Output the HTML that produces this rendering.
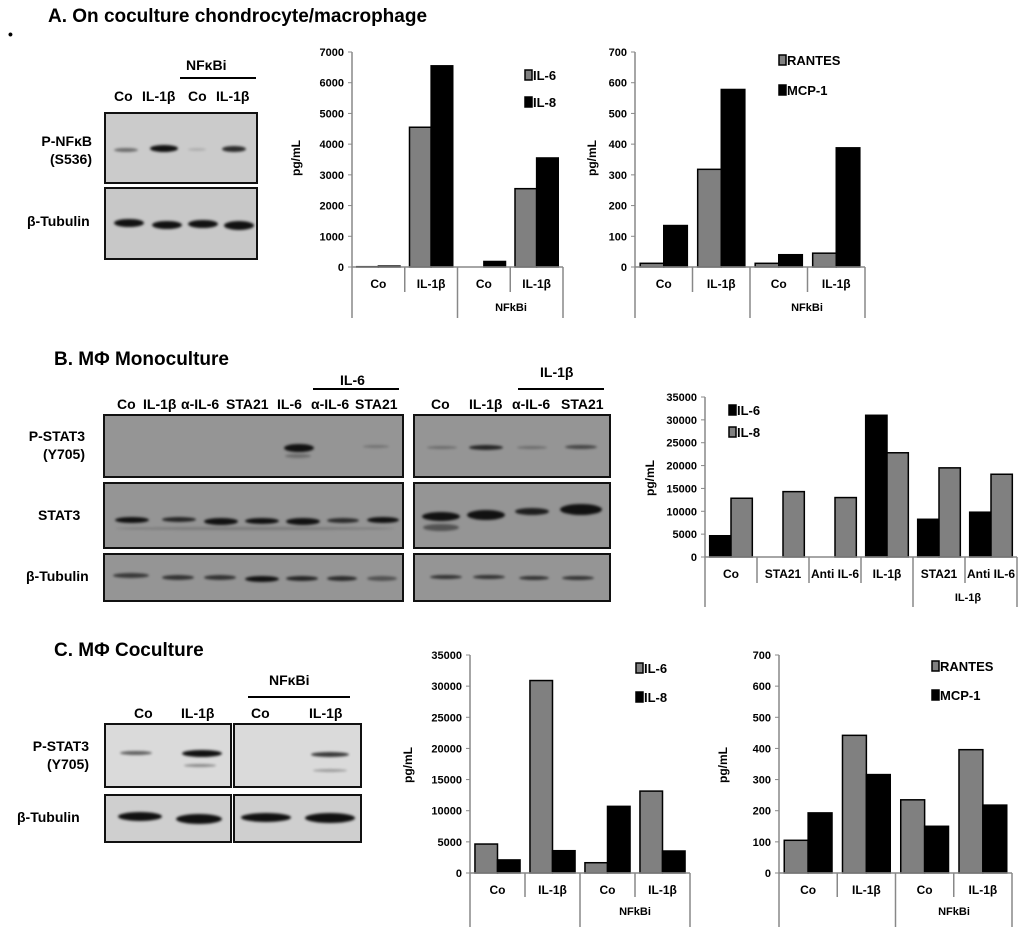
<!DOCTYPE html>
<html><head><meta charset="utf-8">
<style>
body{margin:0;width:1024px;height:927px;background:#fff;position:relative;overflow:hidden;font-family:"Liberation Sans",Arial,sans-serif;font-weight:bold;color:#000}
.t{position:absolute;white-space:nowrap}
.h{font-size:19px}
.l{font-size:14px}
.box{position:absolute;border:2px solid #111;box-sizing:border-box;overflow:hidden}
.band{position:absolute;border-radius:50%;background:#111;filter:blur(1.3px)}
.line{position:absolute;height:2px;background:#000}
svg{position:absolute;left:0;top:0}
</style></head><body>
<div class="t" style="left:8px;top:26px;font-size:14px">•</div>
<div class="t h" style="left:48px;top:6px">A. On coculture chondrocyte/macrophage</div>
<div class="t h" style="left:54px;top:349px">B. MΦ Monoculture</div>
<div class="t h" style="left:54px;top:640px">C. MΦ Coculture</div>

<!-- Blot A -->
<div class="t l" style="left:186px;top:57px">NFκBi</div>
<div class="line" style="left:180px;top:77px;width:76px"></div>
<div class="t l" style="left:114px;top:88px">Co</div>
<div class="t l" style="left:142px;top:88px">IL-1β</div>
<div class="t l" style="left:188px;top:88px">Co</div>
<div class="t l" style="left:216px;top:88px">IL-1β</div>
<div class="t l" style="left:32px;top:132px;text-align:right;width:60px;line-height:18px">P-NFκB<br>(S536)</div>
<div class="t l" style="left:27px;top:213px">β-Tubulin</div>
<div class="box" style="left:104px;top:112px;width:154px;height:72px;background:#cbcbcb">
 <div class="band" style="left:8px;top:34px;width:24px;height:4px;opacity:.5"></div>
 <div class="band" style="left:44px;top:31px;width:28px;height:7px"></div>
 <div class="band" style="left:82px;top:34px;width:18px;height:3px;opacity:.15"></div>
 <div class="band" style="left:116px;top:32px;width:24px;height:6px;opacity:.85"></div>
</div>
<div class="box" style="left:104px;top:187px;width:154px;height:73px;background:#c8c8c8">
 <div class="band" style="left:8px;top:30px;width:30px;height:8px"></div>
 <div class="band" style="left:46px;top:32px;width:30px;height:8px"></div>
 <div class="band" style="left:82px;top:31px;width:30px;height:8px"></div>
 <div class="band" style="left:118px;top:32px;width:30px;height:9px"></div>
</div>

<!-- Blot B -->
<div class="t l" style="left:340px;top:372px">IL-6</div>
<div class="line" style="left:313px;top:388px;width:86px"></div>
<div class="t l" style="left:540px;top:364px">IL-1β</div>
<div class="line" style="left:518px;top:388px;width:86px"></div>
<div class="t l" style="left:117px;top:396px">Co</div>
<div class="t l" style="left:143px;top:396px">IL-1β</div>
<div class="t l" style="left:181px;top:396px">α-IL-6</div>
<div class="t l" style="left:226px;top:396px">STA21</div>
<div class="t l" style="left:277px;top:396px">IL-6</div>
<div class="t l" style="left:311px;top:396px">α-IL-6</div>
<div class="t l" style="left:355px;top:396px">STA21</div>
<div class="t l" style="left:431px;top:396px">Co</div>
<div class="t l" style="left:469px;top:396px">IL-1β</div>
<div class="t l" style="left:512px;top:396px">α-IL-6</div>
<div class="t l" style="left:561px;top:396px">STA21</div>
<div class="t l" style="left:27px;top:427px;text-align:right;width:58px;line-height:18px">P-STAT3<br>(Y705)</div>
<div class="t l" style="left:38px;top:507px">STAT3</div>
<div class="t l" style="left:26px;top:568px">β-Tubulin</div>
<div class="box" style="left:103px;top:414px;width:301px;height:64px;background:#959595">
 <div class="band" style="left:179px;top:28px;width:30px;height:8px"></div>
 <div class="band" style="left:180px;top:38px;width:26px;height:4px;opacity:.3"></div>
 <div class="band" style="left:258px;top:29px;width:26px;height:3px;opacity:.25"></div>
</div>
<div class="box" style="left:103px;top:482px;width:301px;height:67px;background:#959595">
 <div class="band" style="left:10px;top:33px;width:34px;height:6px"></div>
 <div class="band" style="left:57px;top:33px;width:34px;height:5px;opacity:.85"></div>
 <div class="band" style="left:99px;top:34px;width:34px;height:7px"></div>
 <div class="band" style="left:140px;top:34px;width:34px;height:6px"></div>
 <div class="band" style="left:181px;top:34px;width:34px;height:7px"></div>
 <div class="band" style="left:222px;top:34px;width:32px;height:5px;opacity:.8"></div>
 <div class="band" style="left:262px;top:33px;width:32px;height:6px"></div>
 <div class="band" style="left:10px;top:43px;width:280px;height:3px;opacity:.2"></div>
</div>
<div class="box" style="left:103px;top:553px;width:301px;height:49px;background:#959595">
 <div class="band" style="left:8px;top:18px;width:36px;height:5px;opacity:.7"></div>
 <div class="band" style="left:57px;top:20px;width:32px;height:5px;opacity:.75"></div>
 <div class="band" style="left:99px;top:20px;width:32px;height:5px;opacity:.75"></div>
 <div class="band" style="left:140px;top:21px;width:34px;height:6px"></div>
 <div class="band" style="left:181px;top:21px;width:32px;height:5px;opacity:.85"></div>
 <div class="band" style="left:222px;top:21px;width:30px;height:5px;opacity:.8"></div>
 <div class="band" style="left:262px;top:21px;width:30px;height:5px;opacity:.5"></div>
</div>
<div class="box" style="left:413px;top:414px;width:198px;height:64px;background:#959595">
 <div class="band" style="left:12px;top:30px;width:30px;height:3px;opacity:.3"></div>
 <div class="band" style="left:54px;top:29px;width:34px;height:5px;opacity:.85"></div>
 <div class="band" style="left:102px;top:30px;width:30px;height:3px;opacity:.3"></div>
 <div class="band" style="left:150px;top:29px;width:32px;height:4px;opacity:.6"></div>
</div>
<div class="box" style="left:413px;top:482px;width:198px;height:67px;background:#959595">
 <div class="band" style="left:7px;top:28px;width:38px;height:9px"></div>
 <div class="band" style="left:8px;top:40px;width:36px;height:7px;opacity:.5"></div>
 <div class="band" style="left:52px;top:26px;width:38px;height:10px"></div>
 <div class="band" style="left:100px;top:24px;width:34px;height:7px;opacity:.9"></div>
 <div class="band" style="left:145px;top:20px;width:42px;height:11px"></div>
</div>
<div class="box" style="left:413px;top:553px;width:198px;height:49px;background:#959595">
 <div class="band" style="left:15px;top:20px;width:32px;height:4px;opacity:.75"></div>
 <div class="band" style="left:58px;top:20px;width:32px;height:4px;opacity:.75"></div>
 <div class="band" style="left:104px;top:21px;width:30px;height:4px;opacity:.75"></div>
 <div class="band" style="left:147px;top:21px;width:32px;height:4px;opacity:.75"></div>
</div>

<!-- Blot C -->
<div class="t l" style="left:269px;top:672px">NFκBi</div>
<div class="line" style="left:248px;top:696px;width:102px"></div>
<div class="t l" style="left:134px;top:705px">Co</div>
<div class="t l" style="left:181px;top:705px">IL-1β</div>
<div class="t l" style="left:251px;top:705px">Co</div>
<div class="t l" style="left:309px;top:705px">IL-1β</div>
<div class="t l" style="left:27px;top:737px;text-align:right;width:62px;line-height:18px">P-STAT3<br>(Y705)</div>
<div class="t l" style="left:17px;top:809px">β-Tubulin</div>
<div class="box" style="left:104px;top:723px;width:128px;height:65px;background:#dadada">
 <div class="band" style="left:14px;top:26px;width:32px;height:4px;opacity:.6"></div>
 <div class="band" style="left:76px;top:25px;width:40px;height:7px"></div>
 <div class="band" style="left:78px;top:39px;width:32px;height:3px;opacity:.4"></div>
</div>
<div class="box" style="left:233px;top:723px;width:129px;height:65px;background:#dadada">
 <div class="band" style="left:76px;top:27px;width:38px;height:5px;opacity:.8"></div>
 <div class="band" style="left:78px;top:44px;width:34px;height:3px;opacity:.3"></div>
</div>
<div class="box" style="left:104px;top:794px;width:128px;height:49px;background:#cfcfcf">
 <div class="band" style="left:12px;top:16px;width:44px;height:9px"></div>
 <div class="band" style="left:70px;top:18px;width:46px;height:10px"></div>
</div>
<div class="box" style="left:233px;top:794px;width:129px;height:49px;background:#cfcfcf">
 <div class="band" style="left:6px;top:17px;width:50px;height:9px"></div>
 <div class="band" style="left:70px;top:17px;width:50px;height:10px"></div>
</div>

<svg id="charts" width="1024" height="927"></svg>

<script>
// Chart A1: IL-6 / IL-8
const a1Cats = ["Co","IL-1β","Co","IL-1β"];
const a1IL6 = [10, 4550, 0, 2550];
const a1IL8 = [30, 6550, 180, 3550];
const a1Ticks = [0,1000,2000,3000,4000,5000,6000,7000];
// Chart A2: RANTES / MCP-1
const a2Cats = ["Co","IL-1β","Co","IL-1β"];
const a2RANTES = [12, 318, 12, 45];
const a2MCP1 = [135, 578, 40, 388];
const a2Ticks = [0,100,200,300,400,500,600,700];
// Chart B
const bCats = ["Co","STA21","Anti IL-6","IL-1β","STA21","Anti IL-6"];
const bIL6 = [4650, 0, 0, 31000, 8250, 9800];
const bIL8 = [12850, 14300, 13000, 22800, 19500, 18100];
const bTicks = [0,5000,10000,15000,20000,25000,30000,35000];
// Chart C1
const c1Cats = ["Co","IL-1β","Co","IL-1β"];
const c1IL6 = [4650, 30900, 1650, 13150];
const c1IL8 = [2100, 3580, 10700, 3530];
const c1Ticks = [0,5000,10000,15000,20000,25000,30000,35000];
// Chart C2
const c2Cats = ["Co","IL-1β","Co","IL-1β"];
const c2RANTES = [105, 442, 235, 396];
const c2MCP1 = [193, 316, 150, 218];
const c2Ticks = [0,100,200,300,400,500,600,700];

const NS = "http://www.w3.org/2000/svg";
const svg = document.getElementById('charts');
function mk(tag, attrs, parent){
  const e = document.createElementNS(NS, tag);
  for (const k in attrs) e.setAttribute(k, attrs[k]);
  (parent||svg).appendChild(e); return e;
}
function txt(x,y,s,size,anchor,parent){
  const t = mk('text',{x:x,y:y,'font-size':size,'font-family':'Liberation Sans, Arial, sans-serif','font-weight':'bold','text-anchor':anchor||'middle'},parent);
  t.textContent = s; return t;
}
const GRAY="#808080", BLACK="#000";
function chart(o){
  const g = mk('g',{});
  
  
  const n = o.cats.length;
  const W = (o.x1 - o.x0)/n;
  const max = o.ticks[o.ticks.length-1];
  const yS = v => o.y0 - v/max*(o.y0 - o.yTop);
  const xS = i => o.x0 + i*W;
  o.ticks.forEach(t=>{
    const y = yS(t);
    mk('line',{x1:o.x0-4,x2:o.x0,y1:y,y2:y,stroke:'#888','stroke-width':1},g);
    const lab = txt(o.x0-8, y+4, String(t), 11, 'end', g);
    
    
  });
  const bw = W*0.41, pad = W*0.09;
  o.series.forEach((s,si)=>{
    s.vals.forEach((v,i)=>{
      if (v<=0) return;
      const x = xS(i)+pad+si*bw, y = yS(v);
      const r = mk('rect',{x:x,y:y,width:bw,height:o.y0-y,fill:s.color,stroke:'#000','stroke-width':1.5},g);
      
      
    });
  });
  mk('line',{x1:o.x0,x2:o.x0,y1:o.yTop,y2:o.y0,stroke:'#888','stroke-width':1.5},g);
  mk('line',{x1:o.x0,x2:o.x1,y1:o.y0,y2:o.y0,stroke:'#888','stroke-width':1.5},g);
  for (let i=0;i<=n;i++){
    const x = xS(i);
    const long = o.longs.indexOf(i)>=0;
    mk('line',{x1:x,x2:x,y1:o.y0,y2:long?o.yLong:o.yShort,stroke:'#888','stroke-width':1.5},g);
  }
  o.cats.forEach((c,i)=>{
    const l = txt(xS(i)+W/2, o.y0+21, c, 12, 'middle', g);
    
    
  });
  const gl = txt(o.groupX, o.groupY, o.group, 11, 'middle', g);
  
  
  const yt = txt(0,0,'pg/mL',12,'middle',g);
  yt.setAttribute('transform','translate('+o.ytX+','+o.ytY+') rotate(-90)');
  
  
  o.series.forEach((s,si)=>{
    const ly = o.legY + si*o.legDy;
    mk('rect',{x:o.legX,y:ly-9,width:7,height:10,fill:s.color,stroke:'#000','stroke-width':1.5},g);
    const lt = txt(o.legX+8, ly+1, s.label, 13, 'start', g);
    
    
  });
}
chart({name:'chart-a-il6-il8',cats:a1Cats,ticks:a1Ticks,x0:352,x1:563,y0:267,yTop:52,
  series:[{key:'il6',label:'IL-6',vals:a1IL6,color:GRAY},{key:'il8',label:'IL-8',vals:a1IL8,color:BLACK}],
  longs:[0,2,4],yShort:292,yLong:318,group:'NFkBi',groupX:511,groupY:311,ytX:300,ytY:158,legX:525,legY:79,legDy:27});
chart({name:'chart-a-rantes-mcp1',cats:a2Cats,ticks:a2Ticks,x0:635,x1:865,y0:267,yTop:52,
  series:[{key:'rantes',label:'RANTES',vals:a2RANTES,color:GRAY},{key:'mcp1',label:'MCP-1',vals:a2MCP1,color:BLACK}],
  longs:[0,2,4],yShort:292,yLong:318,group:'NFkBi',groupX:807,groupY:311,ytX:596,ytY:158,legX:779,legY:64,legDy:30});
chart({name:'chart-b-il6-il8',cats:bCats,ticks:bTicks,x0:705,x1:1017,y0:557,yTop:397,
  series:[{key:'il6',label:'IL-6',vals:bIL6,color:BLACK},{key:'il8',label:'IL-8',vals:bIL8,color:GRAY}],
  longs:[0,4,6],yShort:583,yLong:607,group:'IL-1β',groupX:968,groupY:601,ytX:654,ytY:478,legX:729,legY:414,legDy:22});
chart({name:'chart-c-il6-il8',cats:c1Cats,ticks:c1Ticks,x0:470,x1:690,y0:873,yTop:655,
  series:[{key:'il6',label:'IL-6',vals:c1IL6,color:GRAY},{key:'il8',label:'IL-8',vals:c1IL8,color:BLACK}],
  longs:[0,2,4],yShort:897,yLong:927,group:'NFkBi',groupX:635,groupY:915,ytX:412,ytY:765,legX:636,legY:672,legDy:29});
chart({name:'chart-c-rantes-mcp1',cats:c2Cats,ticks:c2Ticks,x0:779,x1:1012,y0:873,yTop:655,
  series:[{key:'rantes',label:'RANTES',vals:c2RANTES,color:GRAY},{key:'mcp1',label:'MCP-1',vals:c2MCP1,color:BLACK}],
  longs:[0,2,4],yShort:897,yLong:927,group:'NFkBi',groupX:954,groupY:915,ytX:727,ytY:765,legX:932,legY:670,legDy:29});
</script>
</body></html>
